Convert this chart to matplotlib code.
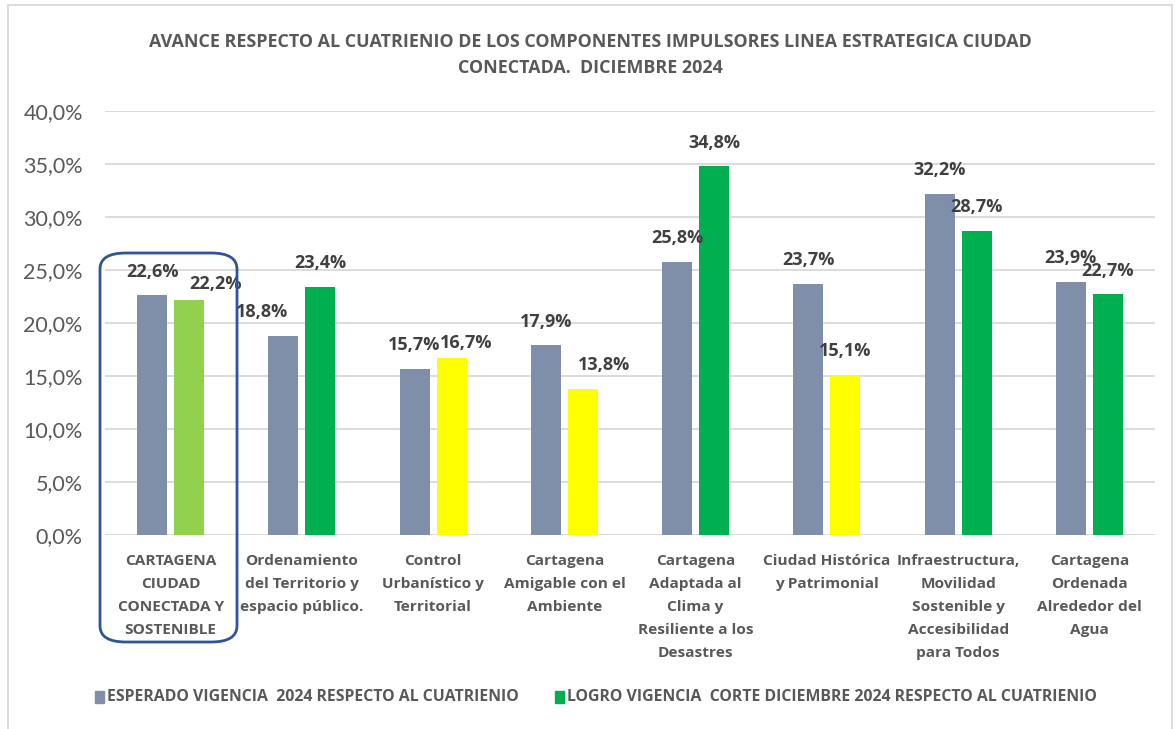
import matplotlib
matplotlib.use("Agg")
import matplotlib.pyplot as plt
from matplotlib.patches import FancyBboxPatch, Rectangle
from matplotlib.ticker import FuncFormatter
import numpy as np

categories = [
    "CARTAGENA\nCIUDAD\nCONECTADA Y\nSOSTENIBLE",
    "Ordenamiento\ndel Territorio y\nespacio público.",
    "Control\nUrbanístico y\nTerritorial",
    "Cartagena\nAmigable con el\nAmbiente",
    "Cartagena\nAdaptada al\nClima y\nResiliente a los\nDesastres",
    "Ciudad Histórica\ny Patrimonial",
    "Infraestructura,\nMovilidad\nSostenible y\nAccesibilidad\npara Todos",
    "Cartagena\nOrdenada\nAlrededor del\nAgua",
]
esperado = [22.6, 18.8, 15.7, 17.9, 25.8, 23.7, 32.2, 23.9]
logro = [22.2, 23.4, 16.7, 13.8, 34.8, 15.1, 28.7, 22.7]
series_names = ["ESPERADO VIGENCIA  2024 RESPECTO AL CUATRIENIO",
                "LOGRO VIGENCIA  CORTE DICIEMBRE 2024 RESPECTO AL CUATRIENIO"]
title = ("AVANCE RESPECTO AL CUATRIENIO DE LOS COMPONENTES IMPULSORES LINEA ESTRATEGICA CIUDAD\n"
         "CONECTADA.  DICIEMBRE 2024")

GRAY = "#7F8FA9"
GREEN = "#00B050"
LIGHT = "#92D050"
YELLOW = "#FFFF00"
TXT = "#404040"
logro_colors = [LIGHT, GREEN, YELLOW, YELLOW, GREEN, YELLOW, GREEN, GREEN]
# manual label nudges (px) like in the source chart
esp_dx = [0, -21, 0, 0, 0, 0, 0, 0]
log_dx = [26, 0, 15, 21, 0, 0, 0, 0]
log_dy = [-8, 0, -9, 0, 0, 0, 0, 0]

BOLD = ["Open Sans", "DejaVu Sans"]
plt.rcParams["font.family"] = ["Lato", "DejaVu Sans"]

W, H = 1175, 729
fig = plt.figure(figsize=(W / 100, H / 100), dpi=100)
R = fig.canvas.get_renderer()


def fit_size(text, size, target_px, **kw):
    """font size so that `text` is target_px wide (widest line)"""
    t = fig.text(0, 0, text, fontsize=size, **kw)
    w = t.get_window_extent(R).width
    t.remove()
    return size * target_px / w


ax = fig.add_axes([105 / W, 1 - 535 / H, 1050 / W, 424 / H])

x = np.arange(len(categories))
bw, off = 0.23, 0.141
ax.bar(x - off, esperado, bw, color=GRAY, zorder=3)
ax.bar(x + off, logro, bw, color=logro_colors, zorder=3)

lab_fs = fit_size("23,4%", 13, 52, family=BOLD, fontweight="bold")
for i in range(len(x)):
    ax.annotate(f"{esperado[i]:.1f}%".replace(".", ","), (x[i] - off, esperado[i]),
                xytext=(esp_dx[i] * 0.72, 17), textcoords="offset points",
                ha="center", va="center", fontsize=lab_fs, fontweight="bold",
                color=TXT, family=BOLD)
    ax.annotate(f"{logro[i]:.1f}%".replace(".", ","), (x[i] + off, logro[i]),
                xytext=(log_dx[i] * 0.72, 17 + log_dy[i] * 0.72), textcoords="offset points",
                ha="center", va="center", fontsize=lab_fs, fontweight="bold",
                color=TXT, family=BOLD)

ax.set_xlim(-0.5, len(x) - 0.5)
ax.set_ylim(0, 40)
ax.set_yticks(np.arange(0, 41, 5))
ax.yaxis.set_major_formatter(FuncFormatter(lambda v, p: f"{v:.1f}%".replace(".", ",")))
ax.tick_params(axis="y", length=0, labelsize=15.5, labelcolor="#595959", pad=16)
ax.grid(axis="y", color="#D9D9D9", lw=1.3, zorder=0)
for s in ax.spines.values():
    s.set_visible(False)

cat_fs = fit_size("Ordenamiento", 11, 112, family=BOLD, fontweight="bold")
cat_ls = 23 / (0.82 * cat_fs * 100 / 72)
ax.set_xticks(x)
ax.set_xticklabels(categories, fontsize=cat_fs, fontweight="bold", color="#595959",
                   linespacing=cat_ls, va="top", family=BOLD)
ax.tick_params(axis="x", length=0, pad=13.5)

title_fs = fit_size(title, 12, 882, family=BOLD, fontweight="bold")
fig.text(590 / W, 1 - 55 / H, title, ha="center", va="center", fontsize=title_fs,
         fontweight="bold", color="#595959", linespacing=1.55, family=BOLD)

# rounded highlight around the first category
fig.patches.append(FancyBboxPatch((100 / W, 1 - 642 / H), 137 / W, 389 / H,
                                  boxstyle="round,pad=0,rounding_size=0.022",
                                  transform=fig.transFigure, fill=False,
                                  ec="#2F5597", lw=2))
fig.patches.append(Rectangle((8 / W, -0.02), 1164 / W, 1 - 5 / H + 0.02,
                             transform=fig.transFigure, fill=False, ec="#D9D9D9", lw=1.3))

# legend
ly = 1 - 697 / H
leg_fs = fit_size(series_names[0], 11, 414, family=BOLD, fontweight="bold")
for lx, col, name in [(100, GRAY, series_names[0]), (560, GREEN, series_names[1])]:
    fig.patches.append(Rectangle((lx / W - 0.004, ly - 0.008), 9 / W, 12 / H,
                                 transform=fig.transFigure, color=col))
    fig.text(lx / W + 0.006, ly, name, ha="left", va="center", fontsize=leg_fs,
             fontweight="bold", color="#595959", family=BOLD)

fig.savefig("out.png", dpi=100, facecolor="white")
